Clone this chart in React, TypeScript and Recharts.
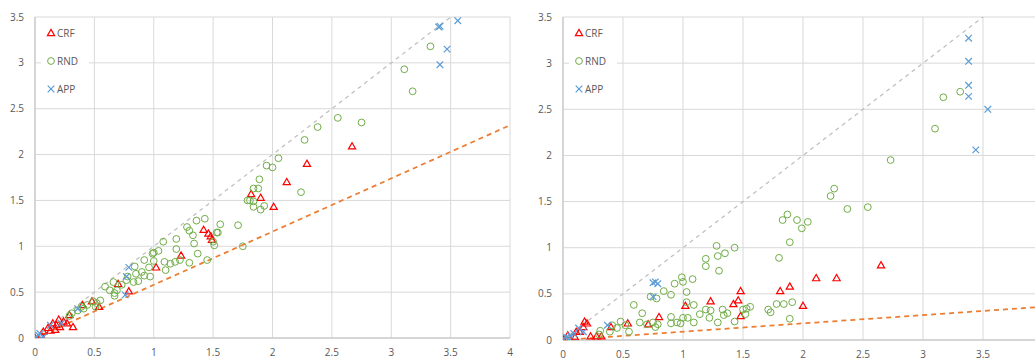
import React from 'react';
import {
  ScatterChart,
  Scatter,
  XAxis,
  YAxis,
  CartesianGrid,
  ReferenceLine,
} from 'recharts';

type Pt = { x: number; y: number };
const pts = (a: number[][]): Pt[] => a.map(([x, y]) => ({ x, y }));

const X_TICKS = [0, 0.5, 1, 1.5, 2, 2.5, 3, 3.5, 4];
const Y_TICKS = [0, 0.5, 1, 1.5, 2, 2.5, 3, 3.5];
const SERIES_NAMES = ['CRF', 'RND', 'APP'];

// left panel
const leftCrf = pts([
  [0, 0], [0.05, 0.03], [0.07, 0.07], [0.11, 0.11], [0.13, 0.08], [0.15, 0.16], [0.17, 0.09],
  [0.18, 0.14], [0.2, 0.2], [0.21, 0.12], [0.24, 0.18], [0.27, 0.16], [0.29, 0.25], [0.32, 0.12],
  [0.4, 0.36], [0.48, 0.4], [0.54, 0.34], [0.7, 0.59], [0.79, 0.51], [1.02, 0.77], [1.23, 0.9],
  [1.42, 1.18], [1.46, 1.14], [1.48, 1.11], [1.49, 1.07], [1.82, 1.57], [1.9, 1.53], [2.01, 1.43],
  [2.12, 1.7], [2.29, 1.9], [2.67, 2.09],
]);
const leftRnd = pts([
  [0.29, 0.24], [0.31, 0.27], [0.36, 0.3], [0.39, 0.34], [0.41, 0.32], [0.44, 0.36], [0.49, 0.4],
  [0.51, 0.34], [0.52, 0.38], [0.55, 0.41], [0.59, 0.56], [0.63, 0.52], [0.66, 0.61], [0.67, 0.49],
  [0.67, 0.46], [0.69, 0.52], [0.73, 0.58], [0.77, 0.63], [0.78, 0.67], [0.83, 0.61], [0.84, 0.78],
  [0.85, 0.7], [0.87, 0.62], [0.9, 0.72], [0.92, 0.85], [0.92, 0.68], [0.96, 0.77], [0.97, 0.67],
  [0.99, 0.92], [1.0, 0.93], [1.0, 0.84], [1.04, 0.95], [1.08, 1.05], [1.09, 0.83], [1.1, 0.74],
  [1.14, 0.81], [1.18, 0.83], [1.19, 1.08], [1.19, 0.97], [1.22, 0.85], [1.28, 1.21], [1.3, 1.17],
  [1.3, 0.82], [1.33, 1.12], [1.34, 1.03], [1.36, 1.28], [1.37, 0.92], [1.43, 1.3], [1.45, 0.85],
  [1.5, 1.05], [1.51, 1.01], [1.53, 1.15], [1.54, 1.15], [1.56, 1.24], [1.71, 1.23], [1.75, 1.0],
  [1.79, 1.5], [1.81, 1.5], [1.84, 1.49], [1.84, 1.63], [1.84, 1.43], [1.88, 1.63], [1.89, 1.73],
  [1.9, 1.4], [1.93, 1.44], [1.95, 1.88], [2.0, 1.86], [2.05, 1.96], [2.24, 1.59], [2.27, 2.16],
  [2.38, 2.3], [2.55, 2.4], [2.75, 2.35], [3.11, 2.93], [3.18, 2.69], [3.33, 3.18],
]);
const leftApp = pts([
  [0, 0], [0.01, 0.01], [0.03, 0.03], [0.04, 0.05], [0.07, 0.01], [0.13, 0.14], [0.22, 0.16],
  [0.36, 0.32], [0.76, 0.47], [0.77, 0.67], [0.79, 0.77], [3.4, 3.39], [3.41, 3.4], [3.56, 3.46],
  [3.47, 3.15], [3.41, 2.98],
]);
const leftDiag = pts([[0, 0], [3.5, 3.5]]);
const leftTrend = pts([[0, 0], [4, 2.32]]);

// right panel
const rightCrf = pts([
  [0, 0.01], [0.04, 0.05], [0.1, 0.03], [0.11, 0.09], [0.14, 0.09], [0.17, 0.14], [0.18, 0.2],
  [0.2, 0.18], [0.23, 0.04], [0.28, 0.04], [0.32, 0.04], [0.4, 0.14], [0.54, 0.18], [0.71, 0.17],
  [0.8, 0.25], [1.02, 0.37], [1.23, 0.42], [1.42, 0.39], [1.46, 0.43], [1.48, 0.53], [1.48, 0.26],
  [1.81, 0.53], [1.89, 0.58], [2.0, 0.37], [2.11, 0.67], [2.28, 0.67], [2.65, 0.81],
]);
const rightRnd = pts([
  [0.3, 0.06], [0.31, 0.1], [0.39, 0.09], [0.41, 0.16], [0.45, 0.13], [0.48, 0.2], [0.52, 0.16],
  [0.55, 0.09], [0.59, 0.38], [0.64, 0.19], [0.66, 0.29], [0.7, 0.17], [0.73, 0.47], [0.75, 0.19],
  [0.77, 0.14], [0.78, 0.45], [0.79, 0.17], [0.84, 0.53], [0.9, 0.49], [0.9, 0.25], [0.9, 0.18],
  [0.93, 0.61], [0.95, 0.19], [0.98, 0.18], [0.99, 0.68], [1.0, 0.63], [1.0, 0.24], [1.03, 0.52],
  [1.03, 0.41], [1.04, 0.24], [1.08, 0.66], [1.09, 0.38], [1.09, 0.19], [1.14, 0.28], [1.19, 0.88],
  [1.19, 0.8], [1.19, 0.33], [1.22, 0.24], [1.23, 0.32], [1.28, 1.02], [1.29, 0.91], [1.29, 0.19],
  [1.3, 0.75], [1.33, 0.33], [1.34, 0.27], [1.35, 0.94], [1.37, 0.29], [1.43, 1.0], [1.43, 0.2],
  [1.5, 0.33], [1.52, 0.28], [1.53, 0.34], [1.56, 0.36], [1.71, 0.33], [1.73, 0.3], [1.78, 0.39],
  [1.8, 0.89], [1.83, 1.3], [1.84, 0.39], [1.87, 1.36], [1.89, 1.06], [1.89, 0.23], [1.91, 0.41],
  [1.95, 1.3], [1.99, 1.21], [2.04, 1.28], [2.23, 1.56], [2.26, 1.64], [2.37, 1.42], [2.54, 1.44],
  [2.73, 1.95], [3.1, 2.29], [3.17, 2.63], [3.31, 2.69],
]);
const rightApp = pts([
  [0, 0.01], [0.03, 0.03], [0.05, 0.02], [0.06, 0.05], [0.09, 0.07], [0.13, 0.13], [0.17, 0.09],
  [0.37, 0.16], [0.75, 0.62], [0.77, 0.63], [0.79, 0.61], [0.75, 0.47], [3.38, 3.27], [3.38, 3.02],
  [3.38, 2.76], [3.38, 2.64], [3.54, 2.5], [3.44, 2.06],
]);
const rightDiag = pts([[0, 0], [3.5, 3.5]]);
const rightTrend = pts([[0, 0], [4, 0.36]]);

const RED = '#FF0000';
const GREEN = '#70AD47';
const BLUE = '#5B9BD5';
const GRID = '#D9D9D9';
const TEXT = '#595959';
const FONT = '"Open Sans", sans-serif';

const Tri = ({ cx, cy }: any) => (
  <path d={`M${cx},${cy - 3.6}L${cx + 3.6},${cy + 2.6}L${cx - 3.6},${cy + 2.6}Z`} fill="none" stroke={RED} strokeWidth={1.2} />
);
const Circ = ({ cx, cy }: any) => <circle cx={cx} cy={cy} r={3.4} fill="none" stroke={GREEN} strokeWidth={1} />;
const Cross = ({ cx, cy }: any) => (
  <path d={`M${cx - 3.3},${cy - 3.3}L${cx + 3.3},${cy + 3.3}M${cx + 3.3},${cy - 3.3}L${cx - 3.3},${cy + 3.3}`} stroke={BLUE} strokeWidth={1.2} />
);
const MARKERS = [Tri, Circ, Cross];

function LegendBox({ left }: { left: number }) {
  return (
    <div style={{ position: 'absolute', left, top: 19, width: 48, height: 84, background: '#fff' }}>
      {SERIES_NAMES.map((name, i) => {
        const M = MARKERS[i];
        return (
          <div key={name} style={{ position: 'absolute', left: 5, top: i * 28, height: 28, display: 'flex', alignItems: 'center' }}>
            <svg width={10} height={10} style={{ display: 'block' }}>
              <M cx={5} cy={5} />
            </svg>
            <span style={{ fontSize: 10, color: TEXT, fontFamily: FONT, marginLeft: 1 }}>{name}</span>
          </div>
        );
      })}
    </div>
  );
}

interface PanelProps {
  crf: Pt[];
  rnd: Pt[];
  app: Pt[];
  diag: Pt[];
  trend: Pt[];
  width: number;
  height: number;
}

function Panel({ crf, rnd, app, diag, trend, width, height }: PanelProps) {
  const tick = { fill: TEXT, fontSize: 10, fontFamily: FONT };
  return (
    <ScatterChart width={width} height={height} margin={{ top: 17, right: 10, left: 5, bottom: 0 }}>
      <CartesianGrid stroke={GRID} strokeWidth={1} />
      <XAxis
        type="number"
        dataKey="x"
        domain={[0, 4]}
        ticks={X_TICKS}
        height={20}
        tickLine={false}
        tickMargin={5}
        tick={tick}
        axisLine={{ stroke: '#BFBFBF' }}
        allowDataOverflow
      />
      <YAxis
        type="number"
        dataKey="y"
        domain={[0, 3.5]}
        ticks={Y_TICKS}
        width={30}
        tickLine={false}
        tickMargin={5}
        tick={tick}
        axisLine={{ stroke: '#BFBFBF' }}
        allowDataOverflow
      />
      <ReferenceLine segment={diag} stroke="#BFBFBF" strokeWidth={1.25} strokeDasharray="4 4" ifOverflow="visible" />
      <ReferenceLine segment={trend} stroke="#ED7D31" strokeWidth={1.75} strokeDasharray="5 4" ifOverflow="visible" />
      <Scatter name="CRF" data={crf} shape={Tri} isAnimationActive={false} />
      <Scatter name="RND" data={rnd} shape={Circ} isAnimationActive={false} />
      <Scatter name="APP" data={app} shape={Cross} isAnimationActive={false} />
    </ScatterChart>
  );
}

export default function App() {
  return (
    <div style={{ position: 'absolute', left: 0, top: 0, width: 1035, height: 358, overflow: 'hidden', background: '#fff' }}>
      <div style={{ position: 'absolute', left: 0, top: 0 }}>
        <Panel crf={leftCrf} rnd={leftRnd} app={leftApp} diag={leftDiag} trend={leftTrend} width={520} height={358} />
      </div>
      <LegendBox left={41} />
      <div style={{ position: 'absolute', left: 528, top: 0 }}>
        <Panel crf={rightCrf} rnd={rightRnd} app={rightApp} diag={rightDiag} trend={rightTrend} width={525} height={360} />
      </div>
      <LegendBox left={569} />
    </div>
  );
}
